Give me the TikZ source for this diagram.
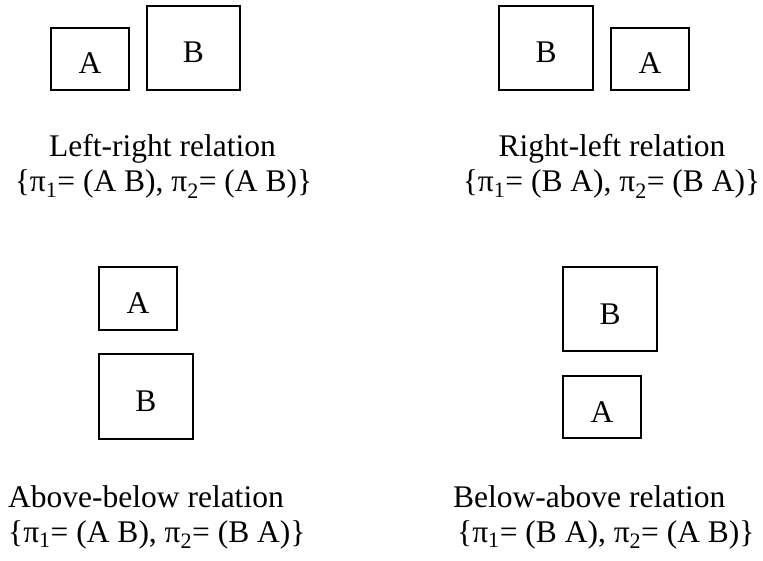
\documentclass[tikz,border=0pt]{standalone}
\usepackage{fontspec}
\setmainfont{Liberation Serif}
\tikzset{
	box/.style = {draw, line width = 1.6pt, inner sep = 0pt, text height = 30pt, text depth = 0pt},
	caption/.style = {anchor = base, inner sep = 0pt},
}
\begin{document}
\begin{tikzpicture}[x = 1pt, y = -1pt, font = \fontsize{31.5}{36}\selectfont]
		\useasboundingbox (0,0) rectangle (763,561);
		% left-right
		\node [box, minimum width = 78pt, minimum height = 62pt] (lrA) at (90,59) {A};
		\node [box, minimum width = 93pt, minimum height = 84pt] (lrB) at (193.5,48) {B};
		\node [caption] (lrname) at (162.5,157) {Left-right relation};
		\node [caption] (lrset) at (163.5,192) {\{π\textsubscript{1}= (A B), π\textsubscript{2}= (A B)\}};
		% right-left
		\node [box, minimum width = 94pt, minimum height = 84pt] (rlB) at (546,48) {B};
		\node [box, minimum width = 78pt, minimum height = 62pt] (rlA) at (650,59) {A};
		\node [caption] (rlname) at (612,157) {Right-left relation};
		\node [caption] (rlset) at (611.5,192) {\{π\textsubscript{1}= (B A), π\textsubscript{2}= (B A)\}};
		% above-below
		\node [box, minimum width = 78pt, minimum height = 63pt] (abA) at (138,298.5) {A};
		\node [box, minimum width = 94pt, minimum height = 85pt] (abB) at (146,396.5) {B};
		\node [caption, anchor = base west] (abname) at (8,507) {Above-below relation};
		\node [caption, anchor = base west] (abset) at (8,542) {\{π\textsubscript{1}= (A B), π\textsubscript{2}= (B A)\}};
		% below-above
		\node [box, minimum width = 94pt, minimum height = 84pt] (baB) at (610,309) {B};
		\node [box, minimum width = 78pt, minimum height = 62pt] (baA) at (602,407) {A};
		\node [caption, anchor = base west] (baname) at (453,507) {Below-above relation};
		\node [caption, anchor = base west] (baset) at (457,542) {\{π\textsubscript{1}= (B A), π\textsubscript{2}= (A B)\}};
	\end{tikzpicture}
\end{document}
